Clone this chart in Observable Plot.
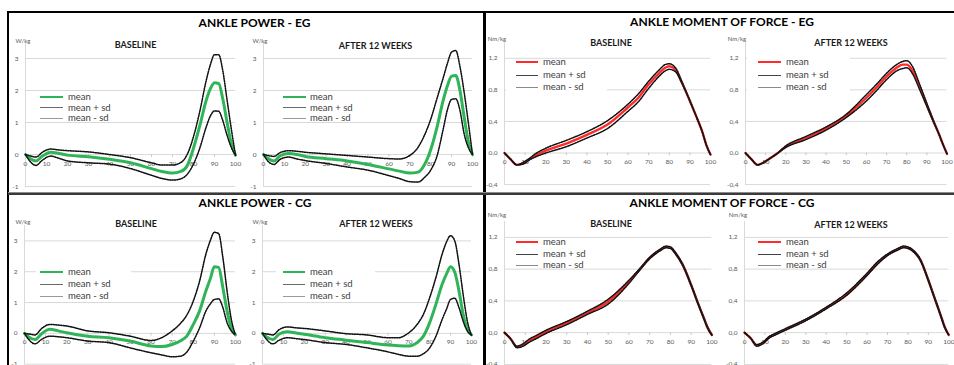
<!DOCTYPE html>
<html><head><meta charset="utf-8">
<script src="https://cdn.jsdelivr.net/npm/d3@7"></script>
<script src="https://cdn.jsdelivr.net/npm/@observablehq/plot@0.6"></script>
<style>
body{margin:0;background:#fff;font-family:Lato,"Open Sans",sans-serif}
#wrap{position:relative;width:954px;height:365px;overflow:hidden;background:#fff}
.t{position:absolute;white-space:nowrap;transform:translate(-50%,-50%);line-height:1}
.title{font-weight:700;font-size:12px;color:#000}
.sub{font-weight:700;font-size:9px;color:#1a1a1a}
.unit{font-size:6px;color:#595959}
.lg{position:absolute;white-space:nowrap;font-size:9.5px;color:#404040;transform:translateY(-50%);line-height:1}
.ln{position:absolute}
.box{position:absolute;background:#fff}
.bd{position:absolute;background:#000}
</style></head><body><div id="wrap"></div>
<script>
// ---------- data ----------
const xTicks = [0, 10, 20, 30, 40, 50, 60, 70, 80, 90, 100];
const powerYTicks = [-1, 0, 1, 2, 3];
const momentYTicks = [-0.4, 0, 0.4, 0.8, 1.2];
const legendLabels = ["mean", "mean + sd", "mean - sd"];

const powerX = [0, 2, 5, 8, 12, 16, 20, 30, 40, 50, 60, 65, 70, 74, 77, 80, 83, 86, 88, 90, 92, 94, 96, 98, 100];
const momentX = [0, 3, 6, 9, 12, 15, 20, 30, 40, 50, 60, 65, 70, 75, 78, 80, 83, 86, 90, 93, 96, 98, 100];

// ANKLE POWER - EG, baseline
const egPowerBaseMean = [0, -0.12, -0.2, -0.05, 0.07, 0.03, -0.02, -0.07, -0.15, -0.26, -0.44, -0.53, -0.58, -0.53, -0.35, 0.2, 0.9, 1.68, 2.05, 2.24, 2.22, 1.72, 1.0, 0.35, -0.02];
const egPowerBasePlus = [0, -0.04, -0.08, 0.07, 0.17, 0.14, 0.12, 0.08, 0, -0.1, -0.26, -0.33, -0.33, -0.25, 0.0, 0.56, 1.35, 2.3, 2.8, 3.12, 3.12, 2.6, 1.7, 0.8, -0.02];
const egPowerBaseMinus = [0, -0.2, -0.34, -0.18, -0.05, -0.12, -0.2, -0.26, -0.3, -0.44, -0.65, -0.75, -0.8, -0.76, -0.62, -0.3, 0.2, 0.85, 1.2, 1.36, 1.35, 1.05, 0.6, 0.22, -0.02];
// ANKLE POWER - EG, after 12 weeks
const egPowerAfterMean = [0, -0.12, -0.2, -0.04, 0.03, 0.0, -0.06, -0.13, -0.2, -0.31, -0.45, -0.52, -0.58, -0.55, -0.32, 0.15, 0.85, 1.7, 2.15, 2.45, 2.47, 2.0, 1.17, 0.4, 0];
const egPowerAfterPlus = [0, -0.03, -0.06, 0.06, 0.12, 0.1, 0.07, 0.02, -0.03, -0.08, -0.13, -0.14, -0.03, 0.23, 0.6, 1.1, 1.75, 2.4, 2.85, 3.2, 3.25, 2.75, 1.95, 1.0, 0];
const egPowerAfterMinus = [0, -0.2, -0.31, -0.15, -0.08, -0.14, -0.19, -0.28, -0.39, -0.49, -0.66, -0.75, -0.85, -0.86, -0.72, -0.49, -0.05, 0.8, 1.4, 1.72, 1.74, 1.38, 0.65, 0.22, 0];
// ANKLE POWER - CG, baseline
const cgPowerBaseMean = [0, -0.12, -0.2, -0.02, 0.13, 0.08, 0.02, -0.09, -0.14, -0.25, -0.41, -0.43, -0.36, -0.24, -0.08, 0.29, 0.73, 1.38, 1.76, 2.16, 2.14, 1.49, 0.73, 0.18, -0.05];
const cgPowerBasePlus = [0, -0.02, -0.05, 0.15, 0.29, 0.27, 0.24, 0.08, 0.02, -0.09, -0.23, -0.14, 0.08, 0.33, 0.6, 1.05, 1.7, 2.58, 3.0, 3.28, 3.24, 2.47, 1.38, 0.46, -0.05];
const cgPowerBaseMinus = [0, -0.2, -0.34, -0.2, -0.09, -0.11, -0.14, -0.25, -0.3, -0.47, -0.63, -0.7, -0.76, -0.74, -0.6, -0.25, 0.18, 0.73, 0.95, 1.1, 1.12, 0.84, 0.35, 0.08, -0.05];
// ANKLE POWER - CG, after 12 weeks
const cgPowerAfterMean = [0, -0.12, -0.2, -0.02, 0.05, 0.01, -0.03, -0.14, -0.22, -0.3, -0.38, -0.4, -0.41, -0.3, -0.09, 0.35, 0.95, 1.6, 1.92, 2.16, 1.98, 1.38, 0.62, 0.13, -0.05];
const cgPowerAfterPlus = [0, -0.02, -0.05, 0.12, 0.21, 0.18, 0.16, 0.08, -0.01, -0.05, -0.14, -0.14, 0.02, 0.29, 0.62, 1.16, 1.82, 2.58, 2.96, 3.17, 3.0, 2.25, 1.27, 0.4, -0.05];
const cgPowerAfterMinus = [0, -0.2, -0.34, -0.22, -0.14, -0.17, -0.2, -0.3, -0.36, -0.47, -0.6, -0.68, -0.74, -0.74, -0.66, -0.47, -0.09, 0.46, 0.78, 1.1, 1.14, 0.84, 0.4, 0.08, -0.05];

// ANKLE MOMENT OF FORCE - EG, baseline
const egMomentBaseMean = [0, -0.08, -0.15, -0.13, -0.08, -0.03, 0.03, 0.12, 0.23, 0.36, 0.58, 0.7, 0.87, 1.01, 1.08, 1.1, 1.06, 0.9, 0.66, 0.47, 0.27, 0.1, -0.02];
const egMomentBasePlus = [0, -0.08, -0.15, -0.12, -0.07, -0.01, 0.06, 0.16, 0.27, 0.41, 0.62, 0.75, 0.91, 1.05, 1.12, 1.13, 1.08, 0.91, 0.66, 0.47, 0.27, 0.1, -0.02];
const egMomentBaseMinus = [0, -0.08, -0.15, -0.14, -0.09, -0.05, 0.0, 0.08, 0.19, 0.31, 0.53, 0.65, 0.82, 0.97, 1.04, 1.06, 1.03, 0.89, 0.66, 0.47, 0.27, 0.1, -0.02];
// ANKLE MOMENT OF FORCE - EG, after 12 weeks
const egMomentAfterMean = [0, -0.08, -0.15, -0.12, -0.07, -0.02, 0.08, 0.19, 0.31, 0.47, 0.7, 0.83, 0.97, 1.08, 1.12, 1.12, 1.04, 0.86, 0.61, 0.42, 0.24, 0.11, -0.01];
const egMomentAfterPlus = [0, -0.08, -0.15, -0.12, -0.07, -0.02, 0.09, 0.21, 0.33, 0.49, 0.74, 0.87, 1.01, 1.12, 1.16, 1.17, 1.09, 0.9, 0.63, 0.43, 0.24, 0.11, -0.01];
const egMomentAfterMinus = [0, -0.08, -0.15, -0.12, -0.07, -0.02, 0.07, 0.17, 0.29, 0.45, 0.66, 0.79, 0.93, 1.04, 1.07, 1.08, 1.0, 0.83, 0.59, 0.41, 0.24, 0.11, -0.01];
// ANKLE MOMENT OF FORCE - CG, baseline
const cgMomentBaseMean = [0, -0.08, -0.18, -0.16, -0.1, -0.06, 0.01, 0.12, 0.25, 0.39, 0.64, 0.79, 0.94, 1.04, 1.08, 1.07, 0.98, 0.85, 0.6, 0.39, 0.19, 0.06, -0.03];
const cgMomentBasePlus = [0, -0.08, -0.17, -0.14, -0.08, -0.04, 0.03, 0.14, 0.27, 0.42, 0.66, 0.8, 0.95, 1.05, 1.09, 1.08, 0.99, 0.86, 0.61, 0.4, 0.2, 0.07, -0.03];
const cgMomentBaseMinus = [0, -0.08, -0.19, -0.17, -0.12, -0.08, -0.01, 0.1, 0.23, 0.36, 0.62, 0.78, 0.93, 1.03, 1.07, 1.06, 0.97, 0.84, 0.59, 0.38, 0.18, 0.05, -0.03];
// ANKLE MOMENT OF FORCE - CG, after 12 weeks
const cgMomentAfterMean = [0, -0.07, -0.16, -0.13, -0.06, -0.02, 0.04, 0.16, 0.31, 0.48, 0.73, 0.87, 0.98, 1.05, 1.08, 1.07, 1.02, 0.92, 0.66, 0.44, 0.22, 0.07, -0.03];
const cgMomentAfterPlus = [0, -0.07, -0.15, -0.12, -0.05, -0.01, 0.05, 0.17, 0.32, 0.5, 0.75, 0.89, 0.99, 1.06, 1.09, 1.08, 1.03, 0.93, 0.67, 0.45, 0.23, 0.08, -0.03];
const cgMomentAfterMinus = [0, -0.07, -0.17, -0.14, -0.07, -0.03, 0.03, 0.15, 0.3, 0.47, 0.72, 0.86, 0.97, 1.04, 1.07, 1.06, 1.01, 0.91, 0.65, 0.43, 0.21, 0.06, -0.03];

// ---------- layout ----------
const wrap = document.getElementById("wrap");
const GREEN = "#2fb457", RED = "#ff2a2a";

function addText(cls, txt, cx, cy) {
  const d = document.createElement("div");
  d.className = "t " + cls; d.textContent = txt;
  d.style.left = cx + "px"; d.style.top = cy + "px";
  wrap.appendChild(d);
}
function addDiv(cls, x, y, w, h, bg) {
  const d = document.createElement("div");
  d.className = cls;
  Object.assign(d.style, {left: x + "px", top: y + "px", width: w + "px", height: h + "px"});
  if (bg) d.style.background = bg;
  wrap.appendChild(d);
  return d;
}

function subplot(c) {
  const ml = 26, mr = 10, mt = 2, mb = 16;
  const W = (c.x100 - c.x0) + ml + mr;
  const H = (c.yBot - c.yTop) + mt + mb;
  const rows = arr => c.xs.map((x, i) => ({x, y: arr[i]}));
  const dots = arr => [
    Plot.line(rows(arr), {x: "x", y: "y", curve: "monotone-x", stroke: "#9a9a9a", strokeWidth: 0.7}),
    Plot.line(rows(arr), {x: "x", y: "y", curve: "monotone-x", stroke: "#111", strokeWidth: 1.5, strokeDasharray: "1.3,1.2"})
  ];
  const meanLine = Plot.line(rows(c.mean), {x: "x", y: "y", curve: "monotone-x", stroke: c.color, strokeWidth: c.meanW});
  const series = [meanLine, ...dots(c.plus), ...dots(c.minus)];
  const svg = Plot.plot({
    width: W, height: H,
    marginLeft: ml, marginRight: mr, marginTop: mt, marginBottom: mb,
    style: {background: "transparent", overflow: "visible", fontFamily: "Lato, sans-serif"},
    x: {domain: [0, 100], axis: null},
    y: {domain: c.domain, axis: null},
    marks: [
      Plot.ruleY(c.yTicks, {x1: 0, x2: 100, stroke: "#d9d9d9", strokeWidth: 1}),
      Plot.ruleX([0], {y1: c.domain[0], y2: c.domain[1], stroke: "#d9d9d9", strokeWidth: 1}),
      Plot.ruleX(xTicks, {x: d => d, y1: 0, y2: -c.tickLen, stroke: "#c8c8c8"}),
      Plot.text(c.yTicks, {x: 0, y: d => d, dx: -7, textAnchor: "end", text: c.fmt, fill: "#595959", fontSize: 6.5}),
      Plot.text(xTicks, {x: d => d, y: 0, dy: 9, text: d => String(d), fill: "#595959", fontSize: 6.5}),
      ...series
    ]
  });
  Object.assign(svg.style, {position: "absolute", left: (c.x0 - ml) + "px", top: (c.yTop - mt) + "px"});
  wrap.appendChild(svg);

  addText("unit", c.unit, c.unitPos[0], c.unitPos[1]);
  addText("sub", c.subtitle, c.subPos[0], c.subPos[1]);

  const L = c.legend;
  if (L.box) addDiv("box", L.box[0], L.box[1], L.box[2], L.box[3]);
  const lineColors = [c.color, c.plusLegend, c.minusLegend];
  legendLabels.forEach((lab, i) => {
    addDiv("ln", L.lx, L.ys[i] - (i === 0 ? 1 : 0.5), L.lw, i === 0 ? 2 : 1, lineColors[i]);
    const t = document.createElement("div");
    t.className = "lg"; t.textContent = lab;
    t.style.left = L.tx + "px"; t.style.top = L.ys[i] + "px";
    wrap.appendChild(t);
  });
}

const powerFmt = d => String(d);
const momentFmt = d => d.toFixed(1).replace(".", ",");
const powerCommon = {xs: powerX, color: GREEN, meanW: 3, yTicks: powerYTicks, fmt: powerFmt, domain: [-1, 3.5], tickLen: 0.09, unit: "W/kg", plusLegend: "#6a6a6a", minusLegend: "#9a9a9a"};
const momentCommon = {xs: momentX, color: RED, meanW: 2.4, yTicks: momentYTicks, fmt: momentFmt, domain: [-0.4, 1.4], tickLen: 0.035, unit: "Nm/kg", plusLegend: "#444", minusLegend: "#8a8a8a"};

const subplots = [
  {...powerCommon, x0: 24.5, x100: 234.5, yTop: 42, yBot: 186, mean: egPowerBaseMean, plus: egPowerBasePlus, minus: egPowerBaseMinus,
   unitPos: [23, 41], subtitle: "BASELINE", subPos: [135.5, 44], legend: {lx: 40, lw: 23, tx: 68, ys: [97, 107.5, 118], box: null}},
  {...powerCommon, x0: 262.5, x100: 471.5, yTop: 42, yBot: 186, mean: egPowerAfterMean, plus: egPowerAfterPlus, minus: egPowerAfterMinus,
   unitPos: [260, 41], subtitle: "AFTER 12 WEEKS", subPos: [375.5, 44.5], legend: {lx: 283, lw: 23, tx: 310, ys: [97, 107.5, 118], box: null}},
  {...powerCommon, x0: 24, x100: 235, yTop: 224.6, yBot: 363.3, mean: cgPowerBaseMean, plus: cgPowerBasePlus, minus: cgPowerBaseMinus,
   unitPos: [23, 222], subtitle: "BASELINE", subPos: [136, 223], legend: {lx: 40, lw: 23, tx: 68, ys: [272, 284, 296], box: [36, 264, 95, 35]}},
  {...powerCommon, x0: 261.7, x100: 470.7, yTop: 224.6, yBot: 363.3, mean: cgPowerAfterMean, plus: cgPowerAfterPlus, minus: cgPowerAfterMinus,
   unitPos: [260, 222], subtitle: "AFTER 12 WEEKS", subPos: [376, 223], legend: {lx: 283, lw: 22, tx: 310, ys: [272, 284, 296], box: [276, 264, 99, 35]}},
  {...momentCommon, x0: 504, x100: 710, yTop: 41.9, yBot: 184, mean: egMomentBaseMean, plus: egMomentBasePlus, minus: egMomentBaseMinus,
   unitPos: [497, 39], subtitle: "BASELINE", subPos: [611, 42], legend: {lx: 516, lw: 22, tx: 543, ys: [62, 75, 87], box: [506, 60, 101, 35]}},
  {...momentCommon, x0: 745, x100: 946.5, yTop: 41.9, yBot: 184, mean: egMomentAfterMean, plus: egMomentAfterPlus, minus: egMomentAfterMinus,
   unitPos: [737, 39], subtitle: "AFTER 12 WEEKS", subPos: [851, 42], legend: {lx: 758, lw: 23, tx: 786, ys: [62, 75, 87], box: [747, 50, 103, 45]}},
  {...momentCommon, x0: 504.3, x100: 711.7, yTop: 221.1, yBot: 364, mean: cgMomentBaseMean, plus: cgMomentBasePlus, minus: cgMomentBaseMinus,
   unitPos: [497, 215], subtitle: "BASELINE", subPos: [611, 223], legend: {lx: 516, lw: 22, tx: 543, ys: [242, 254, 265], box: null}},
  {...momentCommon, x0: 744, x100: 948.3, yTop: 221.1, yBot: 364, mean: cgMomentAfterMean, plus: cgMomentAfterPlus, minus: cgMomentAfterMinus,
   unitPos: [738, 215], subtitle: "AFTER 12 WEEKS", subPos: [851, 224], legend: {lx: 758, lw: 23, tx: 786, ys: [242, 254, 265], box: null}}
];
subplots.forEach(subplot);

// panel titles
addText("title", "ANKLE POWER - EG", 254.5, 23);
addText("title", "ANKLE MOMENT OF FORCE - EG", 722, 22);
addText("title", "ANKLE POWER - CG", 255, 203);
addText("title", "ANKLE MOMENT OF FORCE - CG", 722, 203);

// panel borders
addDiv("bd", 7, 11, 947, 2);
addDiv("bd", 7, 11, 2, 354);
addDiv("bd", 483, 11, 2.5, 354);
addDiv("bd", 8, 192, 946, 3, "#3a3a3a");
addDiv("bd", 8, 192, 946, 1, "#8a8a8a");
</script>
</body></html>
